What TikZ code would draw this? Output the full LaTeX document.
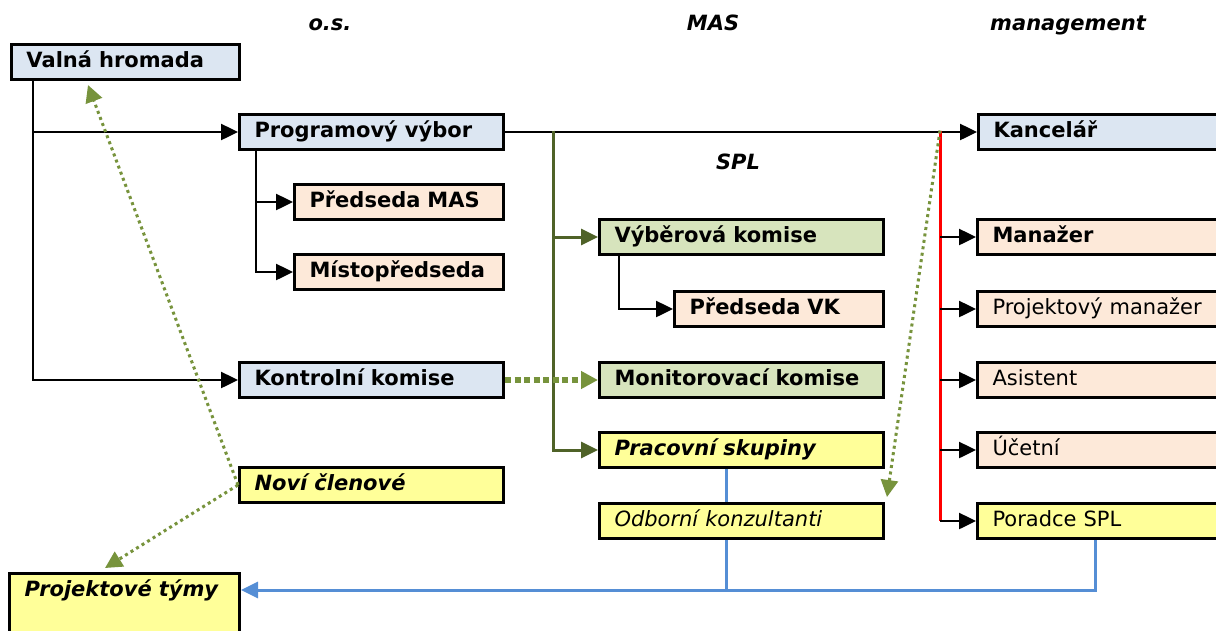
\documentclass[tikz,border=0pt]{standalone}
\usepackage{fontspec}
\setmainfont{DejaVu Sans}
\usepackage{tikz}
\usetikzlibrary{arrows.meta}
\definecolor{osblue}{RGB}{220,230,242}
\definecolor{peach}{RGB}{253,233,217}
\definecolor{masgreen}{RGB}{215,228,189}
\definecolor{lemon}{RGB}{255,255,153}
\definecolor{olive}{RGB}{79,98,40}
\definecolor{leaf}{RGB}{119,147,60}
\definecolor{linkblue}{RGB}{85,142,213}
\tikzstyle{box} = [draw, line width=3pt, anchor=north west, align=left, inner xsep=15pt, inner ysep=0pt, minimum height=35pt, text height=15pt, text depth=5pt, font=\fontsize{21}{24}\selectfont]
\tikzstyle{head} = [anchor=base, font=\fontsize{21}{24}\selectfont\bfseries\itshape]
\tikzstyle{arrow} = [line width=2.5pt, -{Triangle[length=17pt,width=16pt]}]
\tikzstyle{olivearrow} = [line width=3pt, olive, -{Triangle[length=17pt,width=16pt]}]
\tikzstyle{redline} = [line width=3pt, red]
\tikzstyle{dotarrow} = [line width=3pt, leaf, dash pattern=on 3pt off 3.5pt, -{Triangle[length=17pt,width=17pt]}]
\tikzstyle{thickdot} = [line width=5.5pt, leaf, dash pattern=on 6pt off 3.5pt, -{Triangle[length=17pt,width=17pt]}]
\tikzstyle{blueline} = [line width=3pt, linkblue]
\tikzstyle{bluearrow} = [line width=3pt, linkblue, -{Triangle[length=17pt,width=16pt]}]

\begin{document}
\begin{tikzpicture}[x=1pt, y=-1pt]
    \useasboundingbox (0,0) rectangle (1216,630);

    % Headers
    \node[head] (os) at (330,30) {o.s.};
    \node[head] (mas) at (713,30) {MAS};
    \node[head] (mgmt) at (1068,30) {management};
    \node[head] (spl) at (738,169) {SPL};

    % Nodes
    \node[box, fill=osblue, text width=198pt] (valna) at (10,43) {\bfseries Valná hromada};
    \node[box, fill=osblue, text width=234pt] (program) at (238,113) {\bfseries Programový výbor};
    \node[box, fill=peach, text width=179pt] (predseda) at (293,183) {\bfseries Předseda MAS};
    \node[box, fill=peach, text width=179pt] (misto) at (293,253) {\bfseries Místopředseda};
    \node[box, fill=osblue, text width=234pt] (kontrol) at (238,361) {\bfseries Kontrolní komise};
    \node[box, fill=lemon, text width=234pt] (novi) at (238,466) {\bfseries\itshape Noví členové};
    \node[box, fill=lemon, text width=200pt, inner ysep=8pt, text depth=50pt] (tymy) at (8,572) {\bfseries\itshape Projektové týmy};

    \node[box, fill=masgreen, text width=254pt] (vyber) at (598,218) {\bfseries Výběrová komise};
    \node[box, fill=peach, text width=179pt] (predvk) at (673,290) {\bfseries Předseda VK};
    \node[box, fill=masgreen, text width=254pt] (monitor) at (598,361) {\bfseries Monitorovací komise};
    \node[box, fill=lemon, text width=254pt] (pracovni) at (598,431) {\bfseries\itshape Pracovní skupiny};
    \node[box, fill=lemon, text width=254pt] (odborni) at (598,502) {\itshape Odborní konzultanti};

    \node[box, fill=osblue, text width=240pt] (kancelar) at (977,113) {\bfseries Kancelář};
    \node[box, fill=peach, text width=240pt] (manazer) at (976,218) {\bfseries Manažer};
    \node[box, fill=peach, text width=240pt] (projman) at (976,290) {Projektový manažer};
    \node[box, fill=peach, text width=240pt] (asistent) at (976,361) {Asistent};
    \node[box, fill=peach, text width=240pt] (ucetni) at (976,431) {Účetní};
    \node[box, fill=lemon, text width=240pt] (poradce) at (976,502) {Poradce SPL};

    \coordinate (olivetop) at (553,130.5);
    \coordinate (redtop) at (940,130.5);
    \coordinate (bluejoin) at (726,590);

    % Edges
    \draw[arrow] ([xshift=23pt]valna.south west) |- (program.west);
    \draw[arrow] ([xshift=23pt]valna.south west) |- (kontrol.west);
    \draw[arrow] ([xshift=18pt]program.south west) |- (predseda.west);
    \draw[arrow] ([xshift=18pt]program.south west) |- (misto.west);
    \draw[arrow] (program.east) -- (kancelar.west);
    \draw[arrow] ([xshift=21pt]vyber.south west) |- (predvk.west);

    \draw[olivearrow] (olivetop) |- (vyber.west);
    \draw[olivearrow] (olivetop) |- (pracovni.west);

    \draw[redline] (redtop) -- (redtop |- poradce.west);
    \foreach \n in {manazer, projman, asistent, ucetni, poradce}
        \draw[arrow] (redtop |- \n.west) -- (\n.west);

    \draw[thickdot] (kontrol.east) -- (monitor.west);
    \draw[dotarrow] (redtop) -- ([xshift=2pt, yshift=5pt]odborni.north east);
    \draw[dotarrow] (novi.west) -- ([xshift=78pt, yshift=-4pt]valna.south west);
    \draw[dotarrow] (novi.west) -- ([xshift=97pt, yshift=4pt]tymy.north west);

    \draw[blueline] ([xshift=128pt]pracovni.south west) -- ([xshift=128pt]odborni.north west);
    \draw[blueline] ([xshift=119pt]poradce.south west) |- (bluejoin);
    \draw[bluearrow] ([xshift=128pt]odborni.south west) -- (bluejoin) -- ([yshift=-18pt]tymy.north east);

\end{tikzpicture}
\end{document}
